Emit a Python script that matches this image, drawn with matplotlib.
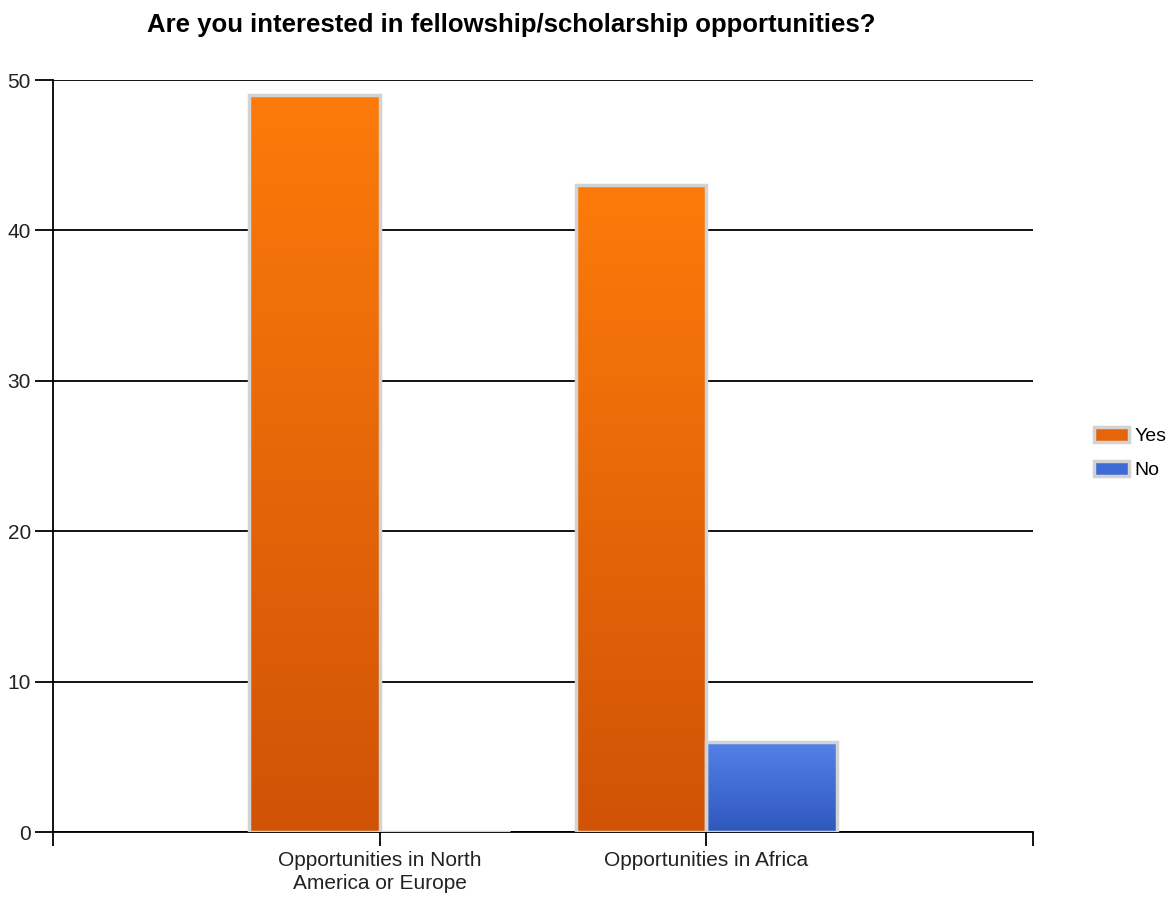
import numpy as np
import matplotlib.pyplot as plt
from matplotlib.patches import Rectangle, Patch
from matplotlib.colors import LinearSegmentedColormap

plt.rcParams['font.family'] = ['Liberation Sans', 'DejaVu Sans']

categories = ['Opportunities in North\nAmerica or Europe', 'Opportunities in Africa']
series = ['Yes', 'No']
values = {
    'Yes': [49, 43],
    'No': [0, 6],
}
# top / bottom colours of each series gradient
colors = {
    'Yes': ('#fc7b0a', '#d05306'),
    'No': ('#5582e8', '#2f58bd'),
}
legend_colors = {'Yes': '#e6650a', 'No': '#3f6bd6'}
title = 'Are you interested in fellowship/scholarship opportunities?'

fig = plt.figure(figsize=(11.75, 8.97), dpi=100)
ax = fig.add_axes([53 / 1175, 65 / 897, 980 / 1175, 752 / 897])

x = np.arange(1, len(categories) + 1)
width = 0.4
edge = '#d3d3d3'

for i, name in enumerate(series):
    top, bottom = colors[name]
    cmap = LinearSegmentedColormap.from_list(name, [bottom, top])
    for xc, v in zip(x, values[name]):
        x0 = xc - width + i * width
        rect = Rectangle((x0, 0), width, v, facecolor='none', edgecolor=edge,
                         linewidth=2.5, zorder=4)
        ax.add_patch(rect)
        if v > 0:
            grad = np.linspace(0, 1, 256).reshape(-1, 1)
            im = ax.imshow(grad, cmap=cmap, origin='lower', aspect='auto',
                           extent=[x0, x0 + width, 0, v], zorder=3)
            im.set_clip_path(rect)

ax.set_xlim(0, 3)
ax.set_ylim(0, 50)

ax.set_yticks(np.arange(0, 51, 10))
ax.yaxis.grid(True, color='black', linewidth=1.3)
ax.set_axisbelow(True)
ax.tick_params(axis='y', length=13, width=1.3, labelsize=15, labelcolor='#222222', pad=3)

ax.set_xticks([0, 1, 2, 3])
ax.set_xticklabels([''] + categories + [''], linespacing=1.25)
ax.tick_params(axis='x', length=10, width=1.3, labelsize=15, labelcolor='#222222', pad=4)

for side in ['top', 'right']:
    ax.spines[side].set_visible(False)
for side in ['left', 'bottom']:
    ax.spines[side].set_linewidth(1.3)

fig.text(511 / 1175, 1 - 25 / 897, title, ha='center', va='center',
         fontsize=18.5, fontweight='bold')

handles = [Patch(facecolor=legend_colors[s], edgecolor=edge, linewidth=2.5) for s in series]
fig.legend(handles, series, loc='center left', bbox_to_anchor=(1076 / 1175, 1 - 453 / 897),
           frameon=False, fontsize=14, handlelength=1.85, handleheight=0.8,
           handletextpad=0.25, labelspacing=0.8)

fig.savefig('out.png', dpi=100)
